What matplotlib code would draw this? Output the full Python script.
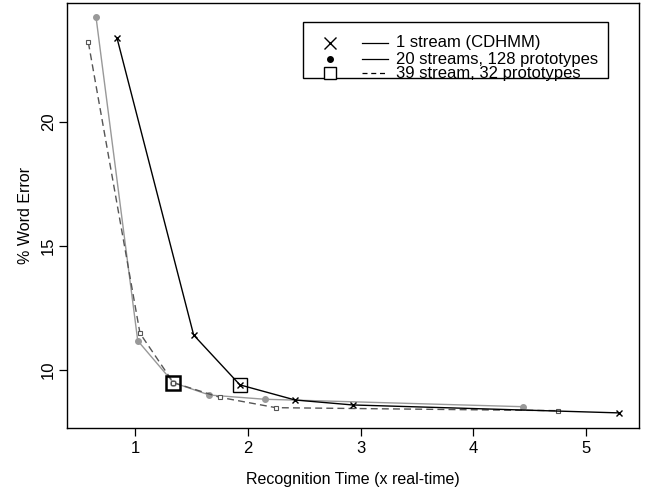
import matplotlib
matplotlib.use("Agg")
import matplotlib.pyplot as plt
from matplotlib.patches import Rectangle

plt.rcParams['font.family'] = ['Liberation Sans', 'DejaVu Sans']

# 1 stream (CDHMM)
cd_time = [0.84, 1.52, 1.93, 2.42, 2.93, 5.29]
cd_err = [23.39, 11.41, 9.40, 8.79, 8.59, 8.27]

# 20 streams, 128 prototypes
s20_time = [0.654, 1.024, 1.34, 1.66, 2.15, 4.44]
s20_err = [24.23, 11.18, 9.49, 8.99, 8.82, 8.52]

# 39 stream, 32 prototypes
s39_time = [0.586, 1.044, 1.34, 1.75, 2.25, 4.75]
s39_err = [23.21, 11.48, 9.49, 8.90, 8.48, 8.36]

# highlighted operating points
hi_time = [1.34, 1.93]
hi_err = [9.49, 9.40]
hi_lw = [1.8, 1.0]

legend_labels = ['1 stream (CDHMM)', '20 streams, 128 prototypes', '39 stream, 32 prototypes']

fig = plt.figure(figsize=(6.51, 4.9), dpi=100)
ax = fig.add_axes([0.103, 0.1265, 0.8786, 0.8673])

ax.plot(s20_time, s20_err, color='#999999', lw=1.0, marker='o', ms=4,
        mec='#999999', mfc='#999999')
ax.plot(s39_time, s39_err, color='#555555', lw=1.0, ls=(0, (5, 3)), marker='s', ms=3.5,
        mfc='white', mec='#555555', mew=0.8)
ax.plot(cd_time, cd_err, color='black', lw=1.0, marker='x', ms=4.5, mew=1.0)
for t, e, w in zip(hi_time, hi_err, hi_lw):
    ax.plot([t], [e], marker='s', ms=10, mfc='none', mec='black', mew=w, ls='none')

ax.set_xlim(0.397, 5.47)
ax.set_ylim(7.66, 24.8)
ax.set_xticks([1, 2, 3, 4, 5])
ax.set_yticks([10, 15, 20])
ax.tick_params(direction='out', length=6, width=0.9, labelsize=12, pad=3)
ax.tick_params(axis='y', pad=2)
for lab in ax.get_yticklabels():
    lab.set_rotation(90)
    lab.set_va('center')
for s in ax.spines.values():
    s.set_linewidth(1.0)

ax.set_xlabel('Recognition Time (x real-time)', fontsize=11.5, labelpad=12)
ax.set_ylabel('% Word Error', fontsize=11.5, labelpad=6)

# legend drawn by hand, R style
ax.add_patch(Rectangle((0.413, 0.823), 0.533, 0.132, transform=ax.transAxes,
                       fill=False, lw=1.0, ec='black'))
rows = [0.906, 0.868, 0.835]
mk = [dict(marker='x', ms=9, mew=1.0, color='black'),
      dict(marker='o', ms=4, color='black'),
      dict(marker='s', ms=9, mfc='white', mec='black', mew=1.0)]
ls = ['-', '-', (0, (4, 3))]
for y, m, l, lab in zip(rows, mk, ls, legend_labels):
    ax.plot([0.460], [y], transform=ax.transAxes, ls='none', clip_on=False, **m)
    ax.plot([0.516, 0.561], [y, y], transform=ax.transAxes, color='black', lw=0.9, ls=l)
    ax.text(0.575, y, lab, transform=ax.transAxes, fontsize=12, va='center', ha='left',
            linespacing=0.9)

fig.savefig('out.png', dpi=100)
